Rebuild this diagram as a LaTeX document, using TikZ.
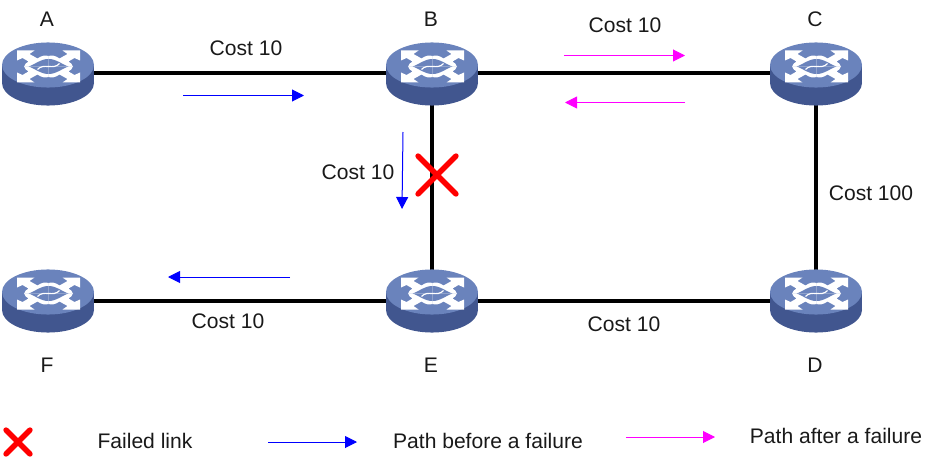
\documentclass[tikz,border=0pt]{standalone}
\usepackage{fontspec}
\setmainfont{Liberation Sans}
\usetikzlibrary{arrows.meta}
\definecolor{rtop}{HTML}{6A83BC}
\definecolor{rside}{HTML}{41568F}
\definecolor{blueline}{HTML}{0000FF}
\definecolor{pinkline}{HTML}{FF00FF}
\tikzset{
  link/.style={line width=3pt,black},
  lbl/.style={font=\fontsize{15.8}{18}\selectfont,inner sep=0pt,text=black!90},
  before/.style={blueline,line width=0.75pt,-{Triangle[length=9pt,width=9pt]}},
  after/.style={pinkline,line width=0.75pt,-{Triangle[length=9pt,width=9pt]}},
  failx/.style={red,line width=4pt,line cap=round},
  router/.pic={
    \fill[rside] (-46,-8.5) rectangle (46,9.5);
    \fill[rside] (0,9.5) ellipse [x radius=34.5pt,y radius=16.9pt];
    \fill[rtop] (0,-8.5) ellipse [x radius=34.5pt,y radius=16.9pt];
    \begin{scope}[shift={(0.5,-7)}]
      \foreach \sx/\sy in {1/1,-1/1,1/-1,-1/-1}{
        \begin{scope}[xscale=\sx,yscale=\sy]
          \fill[white] (-31.5,-16) -- (-14,-16) -- (-19,-12.5) -- (-11,-8)
             .. controls (-7,-11) and (-3,-11.5) .. (0,-10.5)
             -- (0.2,0.2) -- (-24.5,0.2)
             .. controls (-24,-2) and (-22,-4) .. (-20,-5) -- (-26,-8.5) -- (-31.5,-6) -- cycle;
          \fill[rtop] (-20,0.2) .. controls (-13,-2.5) and (-8,-7.5) .. (0,-7.5) -- (0.2,0.2) -- cycle;
        \end{scope}
      }
      \draw[white,line width=0.9pt] (-11,3) .. controls (-5,-4) and (5,4) .. (11,-3);
    \end{scope}
  }
}
\begin{document}
\begin{tikzpicture}[x=0.75pt,y=-0.75pt]
\useasboundingbox (0,0) rectangle (928,460);
\coordinate (A) at (48,73.5);
\coordinate (B) at (432,73.5);
\coordinate (C) at (816,73.5);
\coordinate (D) at (816,300.5);
\coordinate (E) at (432,300.5);
\coordinate (F) at (48,300.5);
\draw[link] (A) -- (B);
\draw[link] (B) -- (C);
\draw[link] (C) -- (D);
\draw[link] (B) -- (E);
\draw[link] (E) -- (D);
\draw[link] (F) -- (E);
\foreach \r in {A,B,C,D,E,F}{ \pic at (\r) {router}; }
\node[lbl] (la) at (47,19.5) {A};
\node[lbl] (lb) at (431,19.5) {B};
\node[lbl] (lc) at (815,19.5) {C};
\node[lbl] (ld) at (815,365.5) {D};
\node[lbl] (le) at (431,365.5) {E};
\node[lbl] (lf) at (47,365.5) {F};
\node[lbl] (c1) at (246,48.5) {Cost 10};
\node[lbl] (c2) at (625,25.5) {Cost 10};
\node[lbl] (c3) at (358,172) {Cost 10};
\node[lbl] (c4) at (871,193) {Cost 100};
\node[lbl] (c5) at (228,321.5) {Cost 10};
\node[lbl] (c6) at (624,324.5) {Cost 10};
\coordinate (a1s) at (183,95.5); \coordinate (a1e) at (304,95.5);
\coordinate (a2s) at (564,55.5); \coordinate (a2e) at (685,55.5);
\coordinate (a3s) at (685,102.5); \coordinate (a3e) at (565,102.5);
\coordinate (a4s) at (403,132); \coordinate (a4e) at (402,209);
\coordinate (a5s) at (290,277); \coordinate (a5e) at (168,277);
\draw[before] (a1s) -- (a1e);
\draw[after] (a2s) -- (a2e);
\draw[after] (a3s) -- (a3e);
\draw[before] (a4s) -- (a4e);
\draw[before] (a5s) -- (a5e);
\coordinate (x1a) at (418,156); \coordinate (x1b) at (456,194);
\coordinate (x1c) at (456,156); \coordinate (x1d) at (418,194);
\draw[failx] (x1a) -- (x1b);
\draw[failx] (x1c) -- (x1d);
\coordinate (x2a) at (6,430); \coordinate (x2b) at (30,454);
\coordinate (x2c) at (30,430); \coordinate (x2d) at (6,454);
\draw[failx] (x2a) -- (x2b);
\draw[failx] (x2c) -- (x2d);
\node[lbl] (t1) at (145,441) {Failed link};
\coordinate (l1s) at (268,442); \coordinate (l1e) at (357,442);
\draw[before] (l1s) -- (l1e);
\node[lbl] (t2) at (488,441) {Path before a failure};
\coordinate (l2s) at (626,437); \coordinate (l2e) at (715,437);
\draw[after] (l2s) -- (l2e);
\node[lbl] (t3) at (836,436) {Path after a failure};
\end{tikzpicture}
\end{document}
